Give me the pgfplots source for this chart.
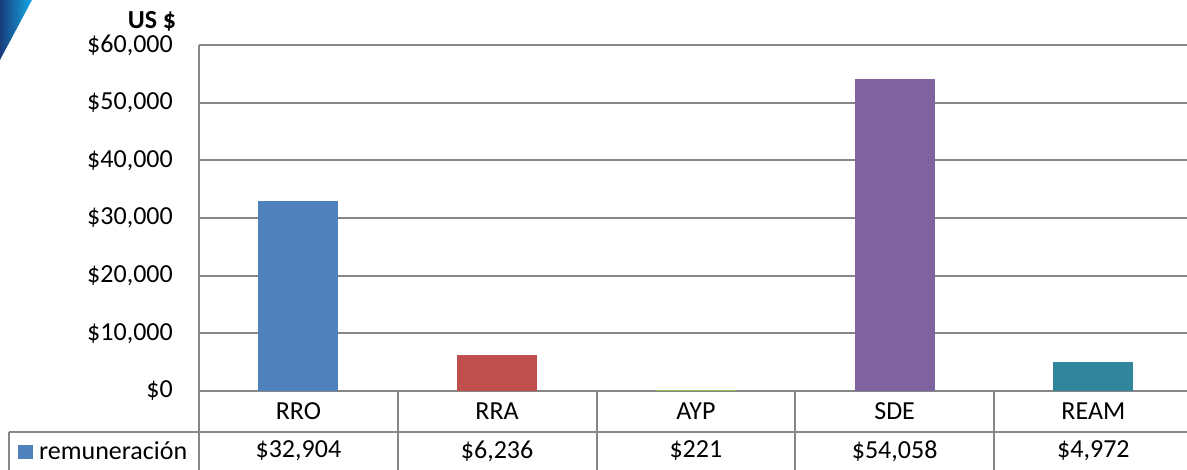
\documentclass[border=0pt]{standalone}
\usepackage{pgfplots}
\pgfplotsset{compat=1.18}
\usepackage{fontspec}
\setmainfont{Carlito}
\definecolor{gridc}{RGB}{134,134,134}
\definecolor{cRRO}{RGB}{79,129,189}
\definecolor{cRRA}{RGB}{192,80,77}
\definecolor{cAYP}{RGB}{155,187,89}
\definecolor{cSDE}{RGB}{128,100,162}
\definecolor{cREAM}{RGB}{49,133,156}
\definecolor{triL}{RGB}{20,170,230}
\definecolor{triD}{RGB}{25,60,125}
\newcommand{\bigf}{\fontsize{26}{31}\selectfont}
\begin{document}
\begin{tikzpicture}[x=1pt,y=1pt]
\useasboundingbox (0,0) rectangle (1187,470);
\shade[left color=triD, right color=triL] (0,470) -- (32,470) -- (0,410) -- cycle;
\node[font=\bigf\bfseries] at (152,449) {US \$};
\begin{axis}[
  at={(199pt,79pt)}, anchor=south west,
  width=988pt, height=346pt, scale only axis,
  xmin=-0.5, xmax=4.471, ymin=0, ymax=60000,
  axis x line=bottom, axis y line=left,
  axis line style={-, draw=gridc, line width=2pt},
  ymajorgrids, major grid style={draw=gridc, line width=2pt},
  ytick={0,10000,20000,30000,40000,50000,60000},
  yticklabels={\$0,{\$10,000},{\$20,000},{\$30,000},{\$40,000},{\$50,000},{\$60,000}},
  scaled y ticks=false,
  xtick={0,1,2,3,4}, xticklabels={RRO,RRA,AYP,SDE,REAM},
  extra x ticks={0,1,2,3,4},
  extra x tick labels={{\$32,904},{\$6,236},{\$221},{\$54,058},{\$4,972}},
  extra x tick style={grid=none, major tick length=0pt, xticklabel style={yshift=-40pt}},
  major tick length=0pt,
  tick label style={font=\bigf},
  xticklabel style={anchor=center, yshift=-20pt},
  yticklabel style={anchor=east, inner sep=0pt, xshift=-26pt},
  ybar, bar width=80pt,
  clip=false,
]
\addplot[fill=cRRO, draw=none, bar shift=0pt] coordinates {(0,32904)};
\addplot[fill=cRRA, draw=none, bar shift=0pt] coordinates {(1,6236)};
\addplot[fill=cAYP, draw=none, bar shift=0pt] coordinates {(2,221)};
\addplot[fill=cSDE, draw=none, bar shift=0pt] coordinates {(3,54058)};
\addplot[fill=cREAM, draw=none, bar shift=0pt] coordinates {(4,4972)};
\end{axis}
\begin{scope}[draw=gridc, line width=2pt]
\draw (9,38) -- (1187,38);
\draw (9,38) -- (9,0);
\draw (199,79) -- (199,0);
\draw (397.75,79) -- (397.75,0);
\draw (596.5,79) -- (596.5,0);
\draw (795.25,79) -- (795.25,0);
\draw (994,79) -- (994,0);
\end{scope}
\fill[cRRO] (18,11) rectangle (33,25);
\node[font=\bigf, anchor=west, inner sep=0pt] at (39,19) {remuneración};
\end{tikzpicture}
\end{document}
